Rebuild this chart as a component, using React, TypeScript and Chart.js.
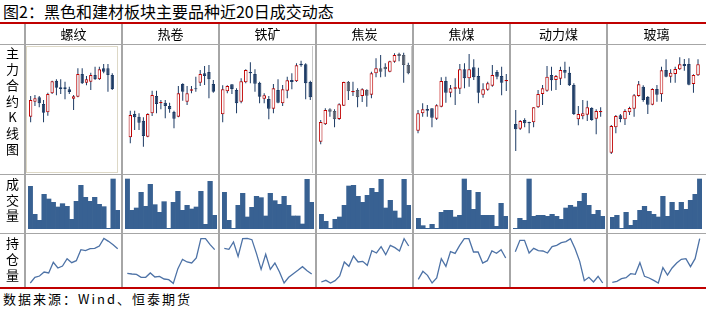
import React, { useEffect, useRef } from "react";
import { Chart, registerables } from "chart.js";

Chart.register(...registerables);

// ---------- text ----------
const TITLE = "图2：黑色和建材板块主要品种近20日成交动态";
const SOURCE = "数据来源：Wind、恒泰期货";
const PRODUCTS = ["螺纹", "热卷", "铁矿", "焦炭", "焦煤", "动力煤", "玻璃"];
const ROW_LABELS = ["主力合约K线图", "成交量", "持仓量"];
const DAYS = Array.from({ length: 20 }, (_, i) => `D${i + 1}`);

// ---------- K-line data (relative price units) ----------
const luowenOpen = [169, 214, 227, 207, 182, 239, 277, 257, 257, 251, 223, 229, 297, 271, 274, 294, 281, 314, 314, 294];
const luowenHigh = [231, 234, 231, 219, 241, 277, 281, 281, 274, 259, 234, 314, 314, 291, 301, 319, 319, 327, 327, 299];
const luowenLow = [152, 201, 197, 152, 172, 237, 233, 237, 221, 237, 189, 227, 267, 263, 249, 279, 279, 299, 244, 249];
const luowenClose = [219, 224, 209, 181, 237, 275, 256, 252, 252, 243, 230, 297, 269, 281, 294, 282, 311, 304, 294, 252];

const rejuanOpen = [107, 177, 169, 157, 109, 179, 231, 209, 211, 201, 183, 169, 267, 214, 247, 254, 271, 299, 303, 267];
const rejuanHigh = [187, 187, 179, 167, 179, 247, 247, 219, 219, 211, 187, 261, 269, 261, 261, 289, 309, 321, 324, 279];
const rejuanLow = [89, 129, 129, 79, 107, 171, 179, 191, 164, 181, 134, 167, 217, 204, 239, 244, 261, 264, 224, 241];
const rejuanClose = [174, 167, 151, 111, 177, 234, 207, 213, 201, 191, 163, 239, 244, 239, 251, 251, 297, 291, 281, 244];

const tiekuangOpen = [176, 245, 266, 249, 214, 272, 303, 297, 271, 223, 222, 193, 249, 209, 247, 279, 275, 328, 326, 273];
const tiekuangHigh = [263, 263, 266, 254, 284, 311, 332, 311, 274, 239, 231, 267, 281, 264, 289, 299, 329, 337, 329, 277];
const tiekuangLow = [152, 239, 237, 179, 209, 269, 269, 244, 209, 209, 161, 179, 209, 201, 224, 251, 273, 319, 221, 219];
const tiekuangClose = [251, 261, 252, 209, 275, 309, 299, 268, 229, 233, 193, 254, 211, 251, 278, 273, 323, 323, 269, 227];

const jiaotanOpen = [94, 146, 191, 186, 162, 202, 273, 242, 249, 231, 249, 235, 299, 314, 319, 304, 334, 357, 354, 324];
const jiaotanHigh = [159, 194, 194, 191, 209, 274, 276, 274, 254, 254, 251, 304, 344, 354, 329, 337, 359, 361, 361, 331];
const jiaotanLow = [86, 144, 169, 137, 159, 201, 219, 231, 197, 213, 199, 224, 287, 287, 289, 302, 331, 335, 271, 296];
const jiaotanClose = [153, 189, 184, 161, 206, 273, 245, 246, 227, 251, 232, 299, 314, 304, 311, 335, 354, 351, 324, 299];

const jiaomeiOpen = [127, 179, 192, 194, 163, 199, 276, 241, 253, 253, 311, 284, 317, 291, 235, 250, 262, 303, 291, 275];
const jiaomeiHigh = [189, 209, 204, 194, 206, 287, 289, 264, 284, 327, 329, 357, 341, 316, 269, 274, 324, 309, 319, 297];
const jiaomeiLow = [119, 169, 169, 137, 159, 197, 211, 227, 204, 237, 254, 259, 279, 209, 226, 247, 259, 281, 233, 246];
const jiaomeiClose = [179, 191, 187, 166, 203, 276, 241, 254, 257, 311, 284, 311, 287, 241, 251, 269, 294, 289, 271, 279];

const donglimeiOpen = [147, 133, 159, 153, 152, 197, 237, 247, 294, 279, 283, 309, 301, 264, 161, 170, 175, 195, 163, 182];
const donglimeiHigh = [189, 159, 164, 154, 197, 249, 264, 321, 319, 294, 319, 334, 319, 269, 201, 219, 217, 197, 191, 197];
const donglimeiLow = [66, 129, 137, 119, 137, 195, 204, 244, 247, 249, 264, 284, 261, 174, 143, 161, 156, 157, 116, 169];
const donglimeiClose = [131, 156, 149, 149, 197, 237, 254, 289, 278, 291, 309, 301, 263, 177, 177, 179, 197, 159, 186, 186];

const boliOpen = [61, 137, 173, 161, 182, 193, 231, 259, 228, 205, 252, 236, 309, 289, 297, 311, 327, 327, 267, 293];
const boliHigh = [144, 174, 177, 191, 199, 237, 276, 263, 231, 254, 264, 319, 341, 311, 319, 347, 342, 344, 296, 341];
const boliLow = [57, 119, 152, 144, 174, 169, 229, 214, 177, 203, 214, 214, 287, 271, 271, 309, 307, 263, 241, 291];
const boliClose = [141, 171, 162, 186, 195, 233, 266, 219, 205, 252, 235, 308, 289, 301, 312, 326, 321, 265, 294, 326];

// ---------- volume (relative) ----------
const luowenVol = [128, 44, 26, 104, 90, 80, 66, 76, 68, 29, 83, 131, 95, 83, 95, 74, 67, 2, 150, 56];
const rejuanVol = [150, 56, 63, 110, 68, 134, 73, 50, 82, 2, 80, 113, 56, 71, 60, 66, 113, 14, 143, 41];
const tiekuangVol = [110, 26, 2, 71, 107, 36, 65, 98, 94, 39, 107, 85, 74, 98, 71, 39, 39, 15, 149, 80];
const jiaotanVol = [44, 23, 2, 29, 36, 71, 129, 131, 98, 80, 101, 122, 110, 149, 63, 86, 54, 33, 149, 71];
const jiaomeiVol = [32, 10, 2, 14, 2, 50, 56, 56, 36, 41, 150, 116, 59, 110, 41, 41, 41, 8, 77, 38];
const donglimeiVol = [2, 32, 26, 150, 38, 41, 41, 38, 44, 38, 29, 63, 71, 66, 83, 107, 71, 44, 56, 38];
const boliVol = [35, 41, 2, 50, 11, 26, 56, 68, 53, 44, 36, 98, 38, 80, 56, 80, 59, 86, 104, 150];

// ---------- open interest (relative) ----------
const luowenOI = [12, 29, 33, 45, 42, 74, 57, 63, 85, 73, 79, 112, 109, 115, 116, 123, 146, 137, 127, 115];
const rejuanOI = [41, 39, 38, 29, 29, 42, 30, 32, 24, 22, 11, 55, 83, 75, 72, 87, 145, 145, 127, 112];
const tiekuangOI = [116, 113, 135, 92, 145, 146, 142, 100, 53, 98, 53, 72, 45, 12, 29, 40, 50, 61, 49, 39];
const jiaotanOI = [15, 20, 12, 19, 33, 75, 62, 93, 75, 77, 65, 109, 102, 121, 97, 125, 118, 108, 145, 123];
const jiaomeiOI = [23, 47, 35, 12, 27, 85, 62, 106, 101, 125, 145, 145, 105, 105, 72, 79, 108, 101, 112, 87];
const donglimeiOI = [106, 140, 140, 102, 116, 109, 108, 102, 121, 125, 133, 136, 145, 115, 77, 19, 29, 15, 32, 12];
const boliOI = [14, 17, 25, 28, 40, 38, 73, 32, 27, 20, 12, 58, 36, 57, 72, 83, 85, 61, 85, 145];

// ---------- assembly ----------
const KLINES = [
  [luowenOpen, luowenHigh, luowenLow, luowenClose],
  [rejuanOpen, rejuanHigh, rejuanLow, rejuanClose],
  [tiekuangOpen, tiekuangHigh, tiekuangLow, tiekuangClose],
  [jiaotanOpen, jiaotanHigh, jiaotanLow, jiaotanClose],
  [jiaomeiOpen, jiaomeiHigh, jiaomeiLow, jiaomeiClose],
  [donglimeiOpen, donglimeiHigh, donglimeiLow, donglimeiClose],
  [boliOpen, boliHigh, boliLow, boliClose],
];
const VOLUMES = [luowenVol, rejuanVol, tiekuangVol, jiaotanVol, jiaomeiVol, donglimeiVol, boliVol];
const OPEN_INTEREST = [luowenOI, rejuanOI, tiekuangOI, jiaotanOI, jiaomeiOI, donglimeiOI, boliOI];

// ---------- layout / style ----------
const W = 706;
const H = 310;
const COL_X = [25, 122, 219, 316, 413, 510, 607];
const COL_W = 97;
const K_LEFT = [28.5, 128.1, 220.4, 318.4, 415.7, 513.5, 609];
const K_RIGHT = [114.4, 215.5, 312.6, 410.6, 508.6, 602.9, 700.3];
const RED = "#c00000";
const NAVY = "#1c3a64";
const GRAYDOWN = "#525b6a";
const VOLBLUE = "#386192";
const LINEBLUE = "#4d72a6";
const GRID = "#a6a6a6";
const FONT = '"Noto Sans CJK SC", "Noto Sans", sans-serif';

function baseOptions(ymax: number, padL: number, padR: number, lineOffset = true) {
  return {
    animation: false,
    responsive: false,
    maintainAspectRatio: false,
    devicePixelRatio: 1,
    events: [],
    layout: { padding: { left: padL, right: padR, top: 0, bottom: 0 } },
    plugins: { legend: { display: false }, tooltip: { enabled: false }, title: { display: false } },
    scales: {
      x: { display: false, offset: lineOffset },
      y: { display: false, min: 0, max: ymax },
    },
  };
}

function candleConfig(k: number) {
  const [o, h, l, c] = KLINES[k];
  const down = k === 3 ? GRAYDOWN : NAVY;
  const up = o.map((v, i) => c[i] >= v);
  const colW = k === 6 ? 99 : COL_W;
  return {
    type: "bar",
    data: {
      labels: DAYS,
      datasets: [
        {
          data: o.map((v, i) => [v, c[i]]),
          backgroundColor: up.map((u) => (u ? "#ffffff" : down)),
          borderColor: up.map((u) => (u ? RED : down)),
          borderWidth: 1,
          borderSkipped: false,
          barPercentage: 0.78,
          categoryPercentage: 1,
          grouped: false,
          inflateAmount: 0,
        },
        {
          data: l.map((v, i) => [v, h[i]]),
          backgroundColor: NAVY,
          borderWidth: 0,
          barThickness: 1,
          grouped: false,
          inflateAmount: 0,
        },
      ],
    },
    options: baseOptions(384, K_LEFT[k] - COL_X[k], COL_X[k] + colW - K_RIGHT[k]),
  };
}

function volumeConfig(k: number) {
  const colW = k === 6 ? 99 : COL_W;
  return {
    type: "bar",
    data: {
      labels: DAYS,
      datasets: [
        {
          data: VOLUMES[k],
          backgroundColor: VOLBLUE,
          borderWidth: 0,
          barPercentage: 1,
          categoryPercentage: 1,
        },
      ],
    },
    options: baseOptions(162, 3, colW - 95),
  };
}

function oiConfig(k: number) {
  const colW = k === 6 ? 99 : COL_W;
  return {
    type: "line",
    data: {
      labels: DAYS,
      datasets: [
        {
          data: OPEN_INTEREST[k],
          borderColor: LINEBLUE,
          borderWidth: 1.3,
          pointRadius: 0,
          tension: 0,
          fill: false,
        },
      ],
    },
    options: baseOptions(159, 3, colW - 95, true),
  };
}

function ChartBox({ left, top, width, height, make }: { left: number; top: number; width: number; height: number; make: () => any }) {
  const ref = useRef<HTMLCanvasElement>(null);
  useEffect(() => {
    const chart = new Chart(ref.current as HTMLCanvasElement, make());
    return () => chart.destroy();
  }, []);
  return (
    <canvas
      ref={ref}
      width={width}
      height={height}
      style={{ position: "absolute", left, top, width, height, display: "block" }}
    />
  );
}

function VText({ text, top, lineHeight }: { text: string; top: number; lineHeight: number }) {
  return (
    <div
      style={{
        position: "absolute",
        left: 0,
        top,
        width: 25,
        textAlign: "center",
        fontFamily: FONT,
        fontSize: 13,
        lineHeight: `${lineHeight}px`,
        color: "#000",
      }}
    >
      {Array.from(text).map((ch, i) => (
        <div key={i}>{ch}</div>
      ))}
    </div>
  );
}

export default function App() {
  const boxes: any[] = [];
  PRODUCTS.forEach((_, k) => {
    const colW = k === 6 ? 99 : COL_W;
    boxes.push(<ChartBox key={`k${k}`} left={COL_X[k]} top={45} width={colW} height={128} make={() => candleConfig(k)} />);
    boxes.push(<ChartBox key={`v${k}`} left={COL_X[k]} top={175} width={colW} height={54} make={() => volumeConfig(k)} />);
    boxes.push(<ChartBox key={`o${k}`} left={COL_X[k]} top={234} width={colW} height={53} make={() => oiConfig(k)} />);
  });

  return (
    <div style={{ position: "fixed", left: 0, top: 0, width: W, height: H, background: "#fff", overflow: "hidden" }}>
      {/* title */}
      <div style={{ position: "absolute", left: 3, top: 1, fontFamily: FONT, fontSize: 16, lineHeight: "20px", color: "#000", whiteSpace: "nowrap" }}>
        {TITLE}
      </div>
      <div style={{ position: "absolute", left: 0, top: 22, width: W, height: 2, background: RED }} />

      {/* inner chart frames */}
      <div style={{ position: "absolute", left: 26, top: 46, width: 92, height: 127, boxSizing: "border-box", border: "1px solid #ddd8c6" }} />
      <div style={{ position: "absolute", left: 312, top: 46, width: 1, height: 127, background: "#c8c8c8" }} />
      <div style={{ position: "absolute", left: 411, top: 46, width: 1, height: 127, background: "#c8c8c8" }} />

      {boxes}

      {/* grid */}
      {[44, 174, 233].map((y) => (
        <div key={`h${y}`} style={{ position: "absolute", left: 0, top: y, width: W, height: 1, background: GRID }} />
      ))}
      {COL_X.map((x) => (
        <div key={`v${x}`} style={{ position: "absolute", left: x - 1, top: 24, width: 2, height: 263, background: GRID }} />
      ))}

      {/* column headers */}
      {PRODUCTS.map((p, k) => (
        <div
          key={p}
          style={{
            position: "absolute",
            left: COL_X[k],
            top: 24,
            width: k === 6 ? 99 : COL_W,
            height: 20,
            lineHeight: "20px",
            textAlign: "center",
            fontFamily: FONT,
            fontSize: 13,
            color: "#000",
          }}
        >
          {p}
        </div>
      ))}

      {/* row labels */}
      <VText text={ROW_LABELS[0]} top={45} lineHeight={16} />
      <VText text={ROW_LABELS[1]} top={176} lineHeight={15.5} />
      <VText text={ROW_LABELS[2]} top={235} lineHeight={16} />

      <div style={{ position: "absolute", left: 0, top: 287, width: W, height: 2, background: RED }} />
      <div
        style={{
          position: "absolute",
          left: 3,
          top: 290,
          fontFamily: FONT,
          fontSize: 13,
          lineHeight: "17px",
          letterSpacing: "2px",
          color: "#000",
          whiteSpace: "nowrap",
        }}
      >
        {SOURCE}
      </div>
    </div>
  );
}
